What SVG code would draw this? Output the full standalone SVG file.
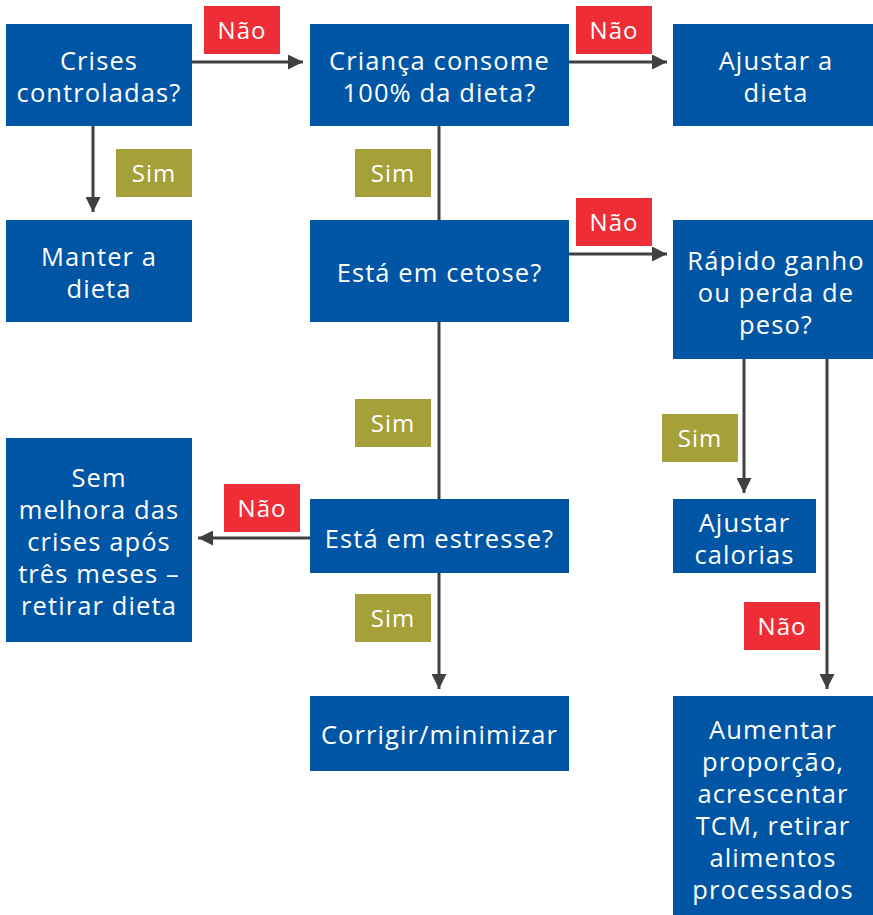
<svg xmlns="http://www.w3.org/2000/svg" width="873" height="915" viewBox="0 0 873 915">
<style>
.box{fill:#0055A4}
.no{fill:#EE2D37}
.yes{fill:#A6A03A}
.t{font-family:"Open Sans","Liberation Sans",sans-serif;font-size:25.5px;fill:#fff;text-anchor:middle;letter-spacing:1.1px}
.l{font-family:"Open Sans","Liberation Sans",sans-serif;font-size:24px;fill:#fff;text-anchor:middle;letter-spacing:1px}
.c{stroke:#404040;stroke-width:3;fill:none}
</style>
<defs>
<marker id="ah" viewBox="0 0 10 10" refX="10" refY="5" markerWidth="5" markerHeight="5" markerUnits="strokeWidth" orient="auto">
<path d="M0,0 L10,5 L0,10 z" fill="#404040"/>
</marker>
</defs>
<g id="connectors">
<line class="c" x1="192" y1="62" x2="303" y2="62" marker-end="url(#ah)"/>
<line class="c" x1="93" y1="126" x2="93" y2="212" marker-end="url(#ah)"/>
<line class="c" x1="569" y1="62" x2="667" y2="62" marker-end="url(#ah)"/>
<line class="c" x1="439" y1="126" x2="439" y2="220"/>
<line class="c" x1="569" y1="254" x2="667" y2="254" marker-end="url(#ah)"/>
<line class="c" x1="439" y1="322" x2="439" y2="499"/>
<line class="c" x1="744" y1="359" x2="744" y2="493" marker-end="url(#ah)"/>
<line class="c" x1="827" y1="359" x2="827" y2="689" marker-end="url(#ah)"/>
<line class="c" x1="310" y1="538" x2="198" y2="538" marker-end="url(#ah)"/>
<line class="c" x1="439" y1="573" x2="439" y2="689" marker-end="url(#ah)"/>
</g>
<g id="labels">
<g id="lbl-nao1"><rect class="no" x="204" y="6" width="76" height="48"/><text class="l" x="242" y="39">Não</text></g>
<g id="lbl-sim1"><rect class="yes" x="116" y="149" width="76" height="48"/><text class="l" x="154" y="182">Sim</text></g>
<g id="lbl-nao2"><rect class="no" x="576" y="6" width="76" height="48"/><text class="l" x="614" y="39">Não</text></g>
<g id="lbl-sim2"><rect class="yes" x="355" y="149" width="76" height="48"/><text class="l" x="393" y="182">Sim</text></g>
<g id="lbl-nao3"><rect class="no" x="576" y="198" width="76" height="48"/><text class="l" x="614" y="231">Não</text></g>
<g id="lbl-sim3"><rect class="yes" x="355" y="399" width="76" height="48"/><text class="l" x="393" y="432">Sim</text></g>
<g id="lbl-sim4"><rect class="yes" x="662" y="414" width="76" height="48"/><text class="l" x="700" y="447">Sim</text></g>
<g id="lbl-nao4"><rect class="no" x="224" y="484" width="76" height="48"/><text class="l" x="262" y="517">Não</text></g>
<g id="lbl-sim5"><rect class="yes" x="355" y="594" width="76" height="48"/><text class="l" x="393" y="627">Sim</text></g>
<g id="lbl-nao5"><rect class="no" x="744" y="602" width="76" height="48"/><text class="l" x="782" y="635">Não</text></g>
</g>
<g id="n1"><rect class="box" x="6" y="24" width="186" height="102"/><text class="t" x="99" y="70">Crises</text><text class="t" x="99" y="102">controladas?</text></g>
<g id="n2"><rect class="box" x="310" y="24" width="259" height="102"/><text class="t" x="439.5" y="70">Criança consome</text><text class="t" x="439.5" y="102">100% da dieta?</text></g>
<g id="n3"><rect class="box" x="673" y="24" width="200" height="102"/><text class="t" x="776" y="70">Ajustar a</text><text class="t" x="776" y="102">dieta</text></g>
<g id="n4"><rect class="box" x="6" y="220" width="186" height="102"/><text class="t" x="99" y="266">Manter a</text><text class="t" x="99" y="298">dieta</text></g>
<g id="n5"><rect class="box" x="310" y="220" width="259" height="102"/><text class="t" x="439.5" y="282">Está em cetose?</text></g>
<g id="n6"><rect class="box" x="673" y="220" width="200" height="139"/><text class="t" x="776" y="270">Rápido ganho</text><text class="t" x="776" y="302">ou perda de</text><text class="t" x="776" y="334">peso?</text></g>
<g id="n7"><rect class="box" x="6" y="438" width="186" height="204"/><text class="t" x="99" y="487">Sem</text><text class="t" x="99" y="519">melhora das</text><text class="t" x="99" y="551">crises após</text><text class="t" x="99" y="583">três meses –</text><text class="t" x="99" y="615">retirar dieta</text></g>
<g id="n8"><rect class="box" x="310" y="499" width="259" height="74"/><text class="t" x="439.5" y="548">Está em estresse?</text></g>
<g id="n9"><rect class="box" x="673" y="499" width="143" height="74"/><text class="t" x="744.5" y="532">Ajustar</text><text class="t" x="744.5" y="564">calorias</text></g>
<g id="n10"><rect class="box" x="310" y="696" width="259" height="75"/><text class="t" x="439.5" y="744">Corrigir/minimizar</text></g>
<g id="n11"><rect class="box" x="673" y="696" width="200" height="219"/><text class="t" x="773" y="739">Aumentar</text><text class="t" x="773" y="771">proporção,</text><text class="t" x="773" y="803">acrescentar</text><text class="t" x="773" y="835">TCM, retirar</text><text class="t" x="773" y="867">alimentos</text><text class="t" x="773" y="899">processados</text></g>
</svg>
